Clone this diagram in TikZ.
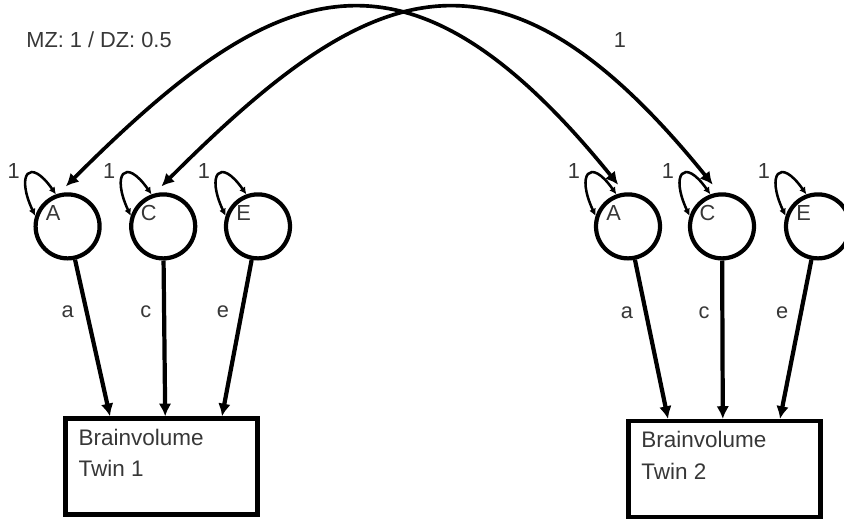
\documentclass[tikz,border=0pt]{standalone}
\usepackage{fontspec}
\setmainfont{Liberation Sans}
\usepackage{tikz}
\usetikzlibrary{arrows.meta, positioning}
\definecolor{labelgray}{RGB}{55, 55, 55}

\begin{document}
\begin{tikzpicture}[
    latent/.style={circle, draw, line width=3pt, minimum size=1.6cm, inner sep=0pt},
    observed/.style={rectangle, draw, line width=3pt, minimum width=4.8cm, minimum height=2.4cm},
    lbl/.style={text=labelgray, font=\fontsize{15.5}{18}\selectfont},
    letter/.style={lbl, xshift=-0.36cm, yshift=0.34cm},
    boxtext/.style={text=labelgray, font=\fontsize{16}{22.5}\selectfont, align=left,
                    anchor=north west, inner sep=0pt, xshift=0.37cm, yshift=-0.31cm},
    loading/.style={line width=3pt, -{Latex[length=9pt,width=9pt]}},
    twoway/.style={line width=2.6pt, {Latex[length=9pt,width=9pt]}-{Latex[length=9pt,width=9pt]},
                   shorten <=0.25cm, shorten >=0.25cm},
    varloop/.style={line width=1.8pt, {Latex[length=5pt,width=5pt]}-{Latex[length=5pt,width=5pt]}}
]
    \useasboundingbox (0,0) rectangle (21.1,13.05);

    % latent factors, twin 1 and twin 2
    \node[latent, label={[letter]center:A}] (A1) at (1.69,7.39) {};
    \node[latent, label={[letter]center:C}] (C1) at (4.08,7.39) {};
    \node[latent, label={[letter]center:E}] (E1) at (6.45,7.39) {};
    \node[latent, label={[letter]center:A}] (A2) at (15.7,7.39) {};
    \node[latent, label={[letter]center:C}] (C2) at (18.05,7.39) {};
    \node[latent, label={[letter]center:E}] (E2) at (20.45,7.39) {};

    % phenotypes
    \node[observed, label={[boxtext]north west:Brainvolume\\Twin 1}] (B1) at (4.04,1.39) {};
    \node[observed, label={[boxtext]north west:Brainvolume\\Twin 2}] (B2) at (18.11,1.325) {};

    % variances
    \foreach \n in {A1,C1,E1,A2,C2,E2} {
        \draw[varloop] (\n.162) .. controls +(115:1.15) and +(125:1.15) .. (\n.110);
        \node[lbl] (v\n) at ([shift={(-1.35,1.39)}]\n.center) {1};
    }

    % path coefficients
    \draw[loading] (A1) -- ([xshift=-1.29cm]B1.north) node[lbl, pos=0.33, left=0.15cm] (a1) {a};
    \draw[loading] (C1) -- ([xshift=0.09cm]B1.north) node[lbl, pos=0.33, left=0.15cm] (c1) {c};
    \draw[loading] (E1) -- ([xshift=1.51cm]B1.north) node[lbl, pos=0.33, left=0.15cm] (e1) {e};
    \draw[loading] (A2) -- ([xshift=-1.41cm]B2.north) node[lbl, pos=0.33, left=0.15cm] (a2) {a};
    \draw[loading] (C2) -- ([xshift=-0.04cm]B2.north) node[lbl, pos=0.33, left=0.15cm] (c2) {c};
    \draw[loading] (E2) -- ([xshift=1.39cm]B2.north) node[lbl, pos=0.33, left=0.15cm] (e2) {e};

    % twin correlations
    \draw[twoway] (A1.105) .. controls +(45:7.6) and +(129:8.75) .. (A2.96);
    \draw[twoway] (C1.105) .. controls +(45:7.6) and +(129:8.75) .. (C2.95);
    \node[lbl] (rA) at (2.475,12.05) {MZ: 1 / DZ: 0.5};
    \node[lbl] (rC) at (15.5,12.05) {1};
\end{tikzpicture}
\end{document}
